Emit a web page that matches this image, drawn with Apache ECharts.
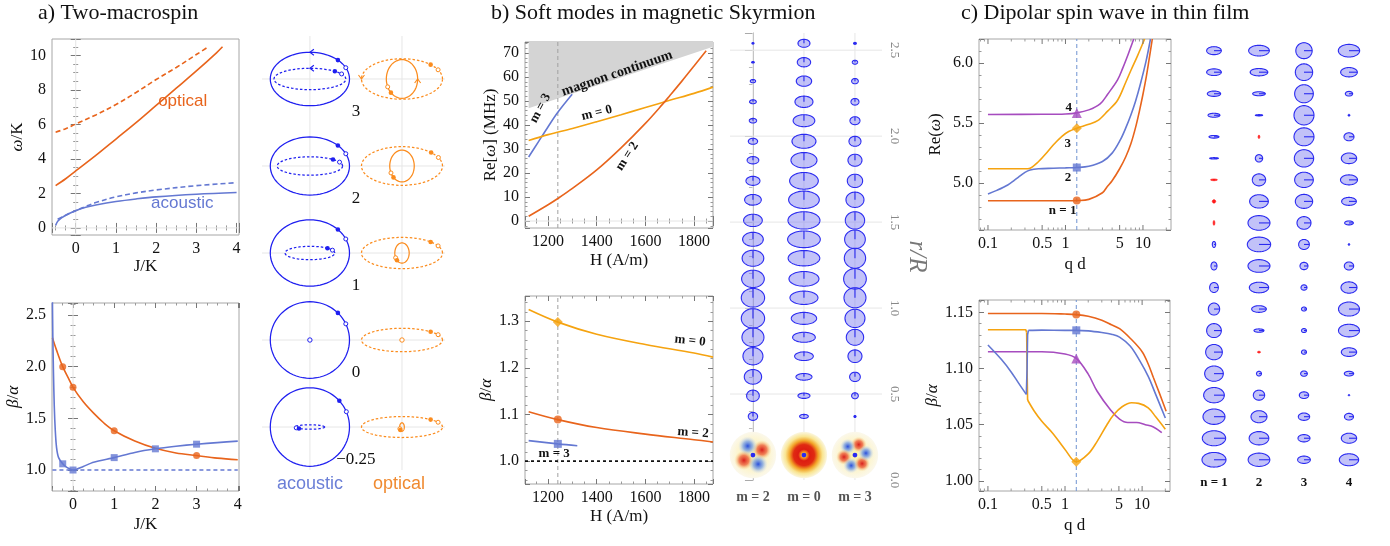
<!DOCTYPE html>
<html>
<head>
<meta charset="utf-8">
<title>Spin-wave modes</title>
<script src="https://cdn.jsdelivr.net/npm/echarts@6.0.0/dist/echarts.min.js"></script>
<style>
  html, body { margin: 0; padding: 0; background: #fff; }
  #chart { width: 1390px; height: 546px; }
</style>
</head>
<body>
<div id="chart"></div>
<script>
// ======================= DATA =======================
// a) Two-macrospin: ω/K vs J/K
const aOmegaOpticalSolid   = [[-0.5,2.45],[-0.25,2.85],[0,3.3],[0.5,4.2],[1,5.15],[1.5,6.1],[2,7.1],[2.5,8.1],[3,9.1],[3.5,10.15],[3.65,10.5]];
const aOmegaOpticalDashed  = [[-0.5,5.55],[-0.25,5.75],[0,6.02],[0.5,6.55],[1,7.15],[1.5,7.85],[2,8.6],[2.5,9.3],[3,10.05],[3.3,10.5]];
const aOmegaAcousticSolid  = [[-0.5,0.15],[-0.45,0.38],[-0.4,0.5],[-0.3,0.66],[-0.15,0.85],[0,1.0],[0.25,1.2],[0.5,1.33],[1,1.53],[1.5,1.68],[2,1.8],[3,1.95],[4,2.05]];
const aOmegaAcousticDashed = [[-0.45,0.5],[-0.3,0.68],[-0.15,0.85],[0,1.0],[0.25,1.25],[0.5,1.47],[1,1.8],[1.5,2.03],[2,2.2],[3,2.45],[4,2.62]];
// a) β/α vs J/K
const aBetaOptical  = [[-0.5,2.28],[-0.4,2.16],[-0.25,2.0],[-0.1,1.88],[0,1.8],[0.25,1.66],[0.5,1.55],[0.75,1.455],[1,1.38],[1.5,1.28],[2,1.21],[2.5,1.165],[3,1.14],[3.5,1.115],[4,1.1]];
const aBetaAcoustic = [[-0.5,2.65],[-0.49,2.3],[-0.475,1.95],[-0.455,1.62],[-0.43,1.38],[-0.4,1.22],[-0.35,1.12],[-0.25,1.06],[-0.15,1.025],[0,1.0],[0.25,1.035],[0.5,1.075],[1,1.12],[1.5,1.17],[2,1.205],[2.5,1.23],[3,1.25],[3.5,1.265],[4,1.28]];
const aBetaReference = [[-0.5,1],[4,1]];
const aBetaOpticalMarks  = [[-0.25,2.0],[0,1.8],[1,1.38],[3,1.14]];
const aBetaAcousticMarks = [[-0.25,1.06],[0,1.0],[1,1.12],[2,1.205],[3,1.25]];
// a) precession trajectories, rows J/K = 3, 2, 1, 0, -0.25 (semi-axes, % of column spacing)
const mxRowLabels = ['3', '2', '1', '0', '\u22120.25'];
const mxAcSolid  = [[43,29],[43,31.5],[43,36],[43,41.6],[43,42.6]];
const mxAcDashed = [[39,11.6],[35.5,10],[27,7.3],[0,0],[16,2.4]];
const mxOpDashed = [[44,22],[44,21],[44,17],[44,12.7],[44,11.4]];
const mxOpSolid  = [[17,21],[13.3,17.2],[7.8,11],[0,0],[2.5,4.6]];
// phase (deg) of filled / open markers
const mxPhAcSolid  = [[45,25],[45,25],[45,25],[45,25],[42,23]];
const mxPhAcDashed = [[46,28],[45,25],[45,25],[0,0],[222,202]];
const mxPhOpDashed = [[45,27],[44,26],[45,27],[45,27],[45,27]];
const mxPhOpSolid  = [[225,204],[226,206],[226,208],[0,0],[225,205]];
// arrow phase (deg), -1 = none
const mxArrowAcSolid  = [90,-1,-1,-1,-1];
const mxArrowAcDashed = [90,-1,-1,-1,-1];
const mxArrowOpDashed = [180,-1,-1,-1,-1];
const mxArrowOpSolid  = [0,-1,-1,-1,-1];

// b) Skyrmion soft modes: Re[ω] (MHz) vs H (A/m)
const bContinuumEdge = [[1120,47],[1878,72.6]];
const bOmegaM3 = [[1120,26.7],[1160,33],[1200,39.3],[1240,45.3],[1299,52.8]];
const bOmegaM0 = [[1120,33.6],[1200,36],[1300,38.6],[1400,41.4],[1500,44.3],[1600,47.3],[1700,50.3],[1800,53.2],[1878,55.8]];
const bOmegaM2 = [[1120,2],[1200,6.8],[1240,9.4],[1300,13.6],[1400,21.3],[1500,30.5],[1600,40.7],[1670,48.6],[1700,52.2],[1750,58.3],[1800,64.6],[1850,71]];
const bFieldMarker = 1240;
// b) β/α vs H
const bBetaM0 = [[1120,1.325],[1240,1.298],[1400,1.272],[1600,1.25],[1800,1.232],[1878,1.223]];
const bBetaM2 = [[1120,1.106],[1240,1.089],[1400,1.072],[1600,1.058],[1800,1.046],[1878,1.041]];
const bBetaM3 = [[1120,1.044],[1240,1.037],[1320,1.033]];
const bBetaRef = [[1105,1],[1878,1]];
const bBetaMarkM0 = [[1240,1.298]];
const bBetaMarkM2 = [[1240,1.089]];
const bBetaMarkM3 = [[1240,1.037]];
// b) local precession ellipses vs r/R (full widths / heights, a.u.)
const skColumns = ['m = 2', 'm = 0', 'm = 3'];
const skR   = [2.54,2.43,2.32,2.20,2.09,1.97,1.86,1.74,1.63,1.51,1.40,1.29,1.17,1.06,0.94,0.83,0.72,0.60,0.49,0.37,0.26];
const skM2W = [10,12,16,20,22,28,35,42,50,56,62,65,68,70,70,66,60,52,38,28,16];
const skM2H = [8,8,10,12,14,18,22,27,32,37,42,48,52,56,58,56,52,44,34,24,14];
const skM0W = [36,40,46,54,65,72,78,86,92,96,98,95,90,84,76,68,56,48,36,26,16];
const skM0H = [24,28,31,34,36,42,46,50,52,52,50,46,44,40,36,30,26,20,16,12,10];
const skM3W = [12,16,20,24,30,36,42,46,54,58,62,64,68,66,60,52,42,32,20,10,4];
const skM3H = [10,12,16,20,24,30,36,40,46,52,56,60,62,60,55,48,38,28,18,9,4];
const skDiscs = [[0,0.145,2],[1,0.145,0],[2,0.145,3]]; // column, r/R of centre, m
const skGridR = [0.5,1.0,1.5,2.0,2.5];

// c) Dipolar spin waves in thin film: Re(ω) vs q d
const cReN1 = [[0.1,4.853],[0.5,4.853],[1,4.853],[1.4,4.855],[2,4.865],[3,4.92],[3.45,4.97],[4,5.02],[5,5.12],[6,5.22],[7,5.33],[8,5.46],[9,5.6],[10,5.74],[11,5.88],[12,6.03],[13.2,6.2]];
const cReN2 = [[0.1,4.91],[0.13,4.94],[0.18,4.985],[0.22,5.025],[0.26,5.06],[0.3,5.09],[0.35,5.11],[0.45,5.12],[0.7,5.124],[1,5.127],[1.4,5.13],[2,5.14],[3,5.18],[4,5.25],[5.1,5.36],[6,5.46],[7,5.57],[8,5.68],[9.3,5.83],[11,6.02],[12.5,6.2]];
const cReN3 = [[0.1,5.12],[0.3,5.12],[0.35,5.125],[0.45,5.18],[0.55,5.24],[0.7,5.32],[0.9,5.39],[1.1,5.43],[1.4,5.458],[2,5.49],[2.6,5.52],[3.5,5.6],[4.7,5.69],[6,5.84],[7,5.94],[8.5,6.06],[10.5,6.2]];
const cReN4 = [[0.1,5.572],[0.5,5.573],[1,5.576],[1.4,5.585],[2,5.61],[2.8,5.66],[3.5,5.74],[4.7,5.86],[5.5,5.96],[6.5,6.08],[7.6,6.2]];
const cQdMarker = 1.4;
const cReMarkN1 = [[1.4,4.855]], cReMarkN2 = [[1.4,5.13]], cReMarkN3 = [[1.4,5.458]], cReMarkN4 = [[1.4,5.585]];
// c) β/α vs q d (n = 2 and n = 3 split at the mode crossing near q d = 0.32)
const cBetaN1 = [[0.1,1.149],[0.5,1.149],[1,1.1485],[1.4,1.148],[2,1.1465],[3,1.143],[4,1.139],[5.1,1.1355],[7,1.127],[10,1.115],[12,1.104],[14,1.092],[17,1.077],[20.5,1.062]];
const cBetaN2Low  = [[0.1,1.121],[0.15,1.108],[0.2,1.097],[0.25,1.087],[0.3,1.079],[0.315,1.077]];
const cBetaN2Jump = [[0.315,1.077],[0.322,1.1],[0.327,1.13],[0.335,1.134]];
const cBetaN2High = [[0.335,1.134],[0.5,1.1342],[1,1.134],[1.4,1.134],[2,1.1335],[3,1.132],[4,1.1305],[5.1,1.128],[7,1.12],[9.3,1.107],[12,1.093],[15,1.077],[20,1.056]];
const cBetaN3Low  = [[0.1,1.1345],[0.31,1.1345],[0.318,1.132]];
const cBetaN3Jump = [[0.318,1.132],[0.322,1.1],[0.327,1.072]];
const cBetaN3High = [[0.327,1.072],[0.4,1.062],[0.5,1.053],[0.7,1.042],[1,1.028],[1.4,1.017],[2,1.024],[2.6,1.035],[3.5,1.05],[4.3,1.059],[5.5,1.066],[7.3,1.0695],[9,1.069],[12,1.065],[15,1.057],[20,1.046]];
const cBetaN4 = [[0.1,1.115],[0.5,1.115],[1,1.113],[1.4,1.109],[2,1.095],[2.6,1.08],[3.9,1.063],[5.1,1.055],[6.5,1.052],[8.5,1.052],[11,1.05],[14,1.048],[18,1.043]];
const cBetaMarkN1 = [[1.4,1.148]], cBetaMarkN2 = [[1.4,1.134]], cBetaMarkN3 = [[1.4,1.017]], cBetaMarkN4 = [[1.4,1.109]];
const cLogMajor = [0.1, 0.5, 1, 5, 10];
const cLogMajorLabels = ['0.1', '0.5', '1', '5', '10'];
const cLogMinor = [0.08,0.09,0.2,0.3,0.4,0.6,0.7,0.8,0.9,2,3,4,6,7,8,9,20];
// c) precession ellipses across film thickness (20 layers, top to bottom), a.u.; S = -1: reversed
const tfColumns = ['n = 1', '2', '3', '4'];
const tfN1W = [44,44,40,36,30,26,20,10,3,10,18,26,34,44,50,56,62,66,70,72];
const tfN1H = [24,20,16,12,8,4,2,10,14,18,24,30,36,42,46,46,46,46,45,44];
const tfN1S = [1,1,1,1,1,1,-1,-1,-1,1,1,1,1,1,1,1,1,1,1,1];
const tfN2W = [62,53,38,22,3,22,40,56,66,70,66,58,44,30,9,15,34,48,59,65];
const tfN2H = [32,22,12,3,10,22,36,40,44,44,38,32,20,10,4,14,30,36,40,40];
const tfN2S = [1,1,1,1,-1,1,1,1,1,1,1,1,1,1,-1,1,1,1,1,1];
const tfN3W = [49,52,56,60,60,58,56,52,42,32,24,18,15,15,15,20,28,34,36,38];
const tfN3H = [48,50,54,58,54,52,46,42,38,30,22,16,12,12,13,16,20,22,22,22];
const tfN3S = [1,1,1,1,1,1,1,1,1,1,1,1,1,1,1,1,1,1,1,1];
const tfN4W = [64,50,22,6,30,46,51,44,26,3,28,48,63,63,46,28,4,27,46,58];
const tfN4H = [38,28,14,6,24,32,30,24,12,6,24,34,42,38,26,14,4,20,30,36];
const tfN4S = [1,1,1,1,1,1,1,1,1,1,1,1,1,1,1,1,1,1,1,1];

// ======================= STYLE =======================
const SERIF = '"Liberation Serif","DejaVu Serif",serif';
const SANS = '"Liberation Sans","DejaVu Sans",sans-serif';
const C_OR = '#e8641c', C_BL = '#6478d2', C_AM = '#f5a310', C_PU = '#a64cbf';
const FRAME = '#a6a6a6';
const MX_BLUE = '#1f1ff0', MX_ORANGE = '#fb8c1e';
const GLYPH_STROKE = '#2a2af0', GLYPH_FILL = 'rgba(120,120,240,0.45)';
// radius(px) = amplitude * scale * (px per column)
const MX_SCALE = 0.01, SK_SCALE = 1 / 306, TF_SCALE = 1 / 270, SK_DISC_R = 0.135;
const RICH = { i: { fontStyle: 'italic', fontFamily: SERIF, fontSize: 17, color: '#111' } };

// ======================= BUILDERS =======================
const grids = [], xAxes = [], yAxes = [], series = [];

function frameAxis(gi, o, pos, main) {
  const isX = pos === 'bottom' || pos === 'top';
  const isLog = o.type === 'log';
  return {
    gridIndex: gi, type: o.type || 'value', position: pos, min: o.min, max: o.max, splitNumber: o.split,
    axisLine: { show: false },
    axisTick: { show: !isLog, inside: true, length: 5, lineStyle: { color: '#777', width: 1 } },
    minorTick: { show: !isLog && !!o.minor, splitNumber: o.minor || 5, length: 2.5, lineStyle: { color: '#999', width: 1 } },
    splitLine: { show: false },
    axisLabel: { show: main && !isLog, showMinLabel: false, showMaxLabel: false, margin: o.margin || 6,
      color: '#111', fontFamily: SERIF, fontSize: 16, formatter: o.fmt || (v => String(v)) },
    name: main ? o.name : '', nameLocation: 'middle', nameGap: o.gap || 25, nameRotate: isX ? 0 : 90,
    nameTextStyle: { color: '#111', fontFamily: SERIF, fontSize: 17, rich: RICH }
  };
}
function addPlot(box, xo, yo) {
  const gi = grids.length;
  grids.push({ left: box[0], top: box[1], width: box[2], height: box[3], show: true, borderColor: FRAME, borderWidth: 1 });
  const xi = xAxes.length, yi = yAxes.length;
  xAxes.push(frameAxis(gi, xo, 'bottom', true), frameAxis(gi, xo, 'top', false));
  yAxes.push(frameAxis(gi, yo, 'left', true), frameAxis(gi, yo, 'right', false));
  return { x: xi, y: yi, xr: [xo.min, xo.max], yr: [yo.min, yo.max] };
}
function addBare(box, xr, yr, yInverse, yAxisOpt) {
  const gi = grids.length;
  grids.push({ left: box[0], top: box[1], width: box[2], height: box[3], show: false });
  const xi = xAxes.length, yi = yAxes.length;
  xAxes.push({ gridIndex: gi, type: 'value', min: xr[0], max: xr[1], show: false });
  yAxes.push(Object.assign({ gridIndex: gi, type: 'value', min: yr[0], max: yr[1], inverse: !!yInverse, show: false }, yAxisOpt || {}));
  return { x: xi, y: yi, xr, yr };
}
function addLine(ax, data, color, opt) {
  opt = opt || {};
  series.push(Object.assign({
    type: 'line', xAxisIndex: ax.x, yAxisIndex: ax.y, data, symbol: 'none', showSymbol: false,
    smooth: opt.smooth === undefined ? 0.35 : opt.smooth, silent: true, z: opt.z || 3,
    lineStyle: { color, width: opt.width === undefined ? 1.6 : opt.width, type: opt.dash || 'solid' }
  }, opt.extra || {}));
}
function addMarks(ax, data, color, symbol, size) {
  series.push({ type: 'scatter', xAxisIndex: ax.x, yAxisIndex: ax.y, data, symbol, symbolSize: size,
    itemStyle: { color }, silent: true, z: 6 });
}
function addTexts(ax, items) {
  series.push({
    type: 'custom', xAxisIndex: ax.x, yAxisIndex: ax.y, clip: false, silent: true, z: 8,
    data: items.map(t => [t.x, t.y]),
    renderItem: (p, api) => {
      const t = items[p.dataIndex];
      const c = api.coord([api.value(0), api.value(1)]);
      return { type: 'text', x: c[0], y: c[1], rotation: (t.rot || 0) * Math.PI / 180,
        style: { text: t.text, fill: t.color || '#111', fontFamily: t.family || SERIF, fontSize: t.size || 14,
          fontWeight: t.bold ? 'bold' : 'normal', fontStyle: t.italic ? 'italic' : 'normal',
          align: t.align || 'center', verticalAlign: 'middle' } };
    }
  });
}
function addRefLines(ax, lines, style, z) {
  series.push({
    type: 'custom', xAxisIndex: ax.x, yAxisIndex: ax.y, clip: false, silent: true, z: z || 1,
    data: lines.map(l => l.v !== undefined ? [l.v, ax.yr[0]] : [ax.xr[0], l.h]),
    renderItem: (p, api) => {
      const l = lines[p.dataIndex];
      const a = l.v !== undefined ? api.coord([l.v, ax.yr[0]]) : api.coord([ax.xr[0], l.h]);
      const b = l.v !== undefined ? api.coord([l.v, ax.yr[1]]) : api.coord([ax.xr[1], l.h]);
      return { type: 'line', shape: { x1: a[0], y1: a[1], x2: b[0], y2: b[1] },
        style: Object.assign({ stroke: '#e2e2e2', lineWidth: 1 }, style) };
    }
  });
}
function addLogTicks(ax) {
  const items = cLogMajor.map((v, i) => [v, 1, i]).concat(cLogMinor.map(v => [v, 0, -1]));
  series.push({
    type: 'custom', xAxisIndex: ax.x, yAxisIndex: ax.y, clip: false, silent: true, z: 6, data: items,
    renderItem: (p, api) => {
      const v = api.value(0), major = api.value(1) === 1;
      const b = api.coord([v, ax.yr[0]]), t = api.coord([v, ax.yr[1]]);
      const L = major ? 5 : 2.5, col = major ? '#777' : '#999';
      const ch = [
        { type: 'line', shape: { x1: b[0], y1: b[1], x2: b[0], y2: b[1] - L }, style: { stroke: col, lineWidth: 1 } },
        { type: 'line', shape: { x1: t[0], y1: t[1], x2: t[0], y2: t[1] + L }, style: { stroke: col, lineWidth: 1 } }
      ];
      if (major) ch.push({ type: 'text', x: b[0], y: b[1] + 6, style: { text: cLogMajorLabels[api.value(2)],
        fill: '#111', fontFamily: SERIF, fontSize: 16, align: 'center', verticalAlign: 'top' } });
      return { type: 'group', children: ch };
    }
  });
}
function ellipsePts(cx, cy, rx, ry) {
  const pts = [];
  for (let k = 0; k < 72; k++) { const t = k / 72 * Math.PI * 2; pts.push([cx + rx * Math.cos(t), cy - ry * Math.sin(t)]); }
  return pts;
}

// ======================= PANEL a =======================
const aTop = addPlot([52, 39, 187, 196],
  { min: -0.59, max: 4.06, split: 5, minor: 4, name: 'J/K', gap: 23 },
  { min: -0.41, max: 10.95, split: 5, minor: 4, name: '{i|\u03c9}/K', gap: 25 });
addRefLines(aTop, [{ v: 0 }, { h: 0 }], { stroke: '#e4e4e4' });
addLine(aTop, aOmegaOpticalDashed, C_OR, { dash: [5, 3] });
addLine(aTop, aOmegaOpticalSolid, C_OR);
addLine(aTop, aOmegaAcousticDashed, C_BL, { dash: [5, 3] });
addLine(aTop, aOmegaAcousticSolid, C_BL);
addTexts(aTop, [
  { x: 2.66, y: 7.33, text: 'optical', color: C_OR, family: SANS, size: 17 },
  { x: 2.65, y: 1.45, text: 'acoustic', color: C_BL, family: SANS, size: 17 }
]);

const aBot = addPlot([52, 303, 187, 188],
  { min: -0.51, max: 4.03, split: 5, minor: 4, name: 'J/K', gap: 25 },
  { min: 0.797, max: 2.616, split: 4, minor: 5, fmt: v => v.toFixed(1), name: '{i|\u03b2}/{i|\u03b1}', gap: 29 });
addRefLines(aBot, [{ v: 0 }], { stroke: '#e4e4e4' });
addLine(aBot, aBetaReference, C_BL, { dash: [4, 3], smooth: false });
addLine(aBot, aBetaOptical, C_OR);
addLine(aBot, aBetaAcoustic, C_BL, { smooth: 0.25 });
addMarks(aBot, aBetaOpticalMarks, C_OR, 'circle', 7);
addMarks(aBot, aBetaAcousticMarks, C_BL, 'rect', 7);

// trajectories
const aGly = addBare([262, 36, 183, 434], [-0.52, 1.467], [-0.494, 4.494], true);
addRefLines(aGly, [{ v: 0 }, { v: 1 }].concat(mxRowLabels.map((_, i) => ({ h: i }))), { stroke: '#e6e6e6' });
const mxItems = [];
mxRowLabels.forEach((_, i) => {
  mxItems.push([0, i, mxAcSolid[i][0], mxAcSolid[i][1], mxPhAcSolid[i][0], mxPhAcSolid[i][1], 0, 0, mxArrowAcSolid[i]]);
  mxItems.push([0, i, mxAcDashed[i][0], mxAcDashed[i][1], mxPhAcDashed[i][0], mxPhAcDashed[i][1], 1, 0, mxArrowAcDashed[i]]);
  mxItems.push([1, i, mxOpDashed[i][0], mxOpDashed[i][1], mxPhOpDashed[i][0], mxPhOpDashed[i][1], 1, 1, mxArrowOpDashed[i]]);
  mxItems.push([1, i, mxOpSolid[i][0], mxOpSolid[i][1], mxPhOpSolid[i][0], mxPhOpSolid[i][1], 0, 1, mxArrowOpSolid[i]]);
});
series.push({
  type: 'custom', xAxisIndex: aGly.x, yAxisIndex: aGly.y, clip: false, silent: true, z: 4, data: mxItems,
  renderItem: (p, api) => {
    const c = api.coord([api.value(0), api.value(1)]);
    const u = api.size([1, 1])[0];
    const rx = api.value(2) * MX_SCALE * u, ry = api.value(3) * MX_SCALE * u;
    const col = api.value(7) === 0 ? MX_BLUE : MX_ORANGE;
    const dashed = api.value(6) === 1;
    const ch = [];
    if (rx < 0.5) {
      ch.push({ type: 'circle', shape: { cx: c[0], cy: c[1], r: 2.2 }, style: { fill: '#fff', stroke: col, lineWidth: 1 } });
      return { type: 'group', children: ch };
    }
    const at = d => [c[0] + rx * Math.cos(d * Math.PI / 180), c[1] - ry * Math.sin(d * Math.PI / 180)];
    const st = { fill: 'none', stroke: col, lineWidth: 1.25 };
    if (dashed) st.lineDash = [2.5, 2];
    ch.push({ type: 'polygon', shape: { points: ellipsePts(c[0], c[1], rx, ry) }, style: st });
    const pf = at(api.value(4)), po = at(api.value(5));
    ch.push({ type: 'circle', shape: { cx: po[0], cy: po[1], r: 2 }, style: { fill: '#fff', stroke: col, lineWidth: 1 } });
    ch.push({ type: 'circle', shape: { cx: pf[0], cy: pf[1], r: 2.3 }, style: { fill: col } });
    const ph = api.value(8);
    if (ph >= 0) {
      const r = ph * Math.PI / 180, P = at(ph);
      let tx = -rx * Math.sin(r), ty = -ry * Math.cos(r);
      const n = Math.hypot(tx, ty); tx /= n; ty /= n;
      const A = [P[0] - 4 * tx - 3 * ty, P[1] - 4 * ty + 3 * tx], B = [P[0] - 4 * tx + 3 * ty, P[1] - 4 * ty - 3 * tx];
      ch.push({ type: 'polyline', shape: { points: [A, P, B] }, style: { fill: 'none', stroke: col, lineWidth: 1.1 } });
    }
    return { type: 'group', children: ch };
  }
});
addTexts(aGly, mxRowLabels.map((t, i) => ({ x: 0.5, y: i + 0.37, text: t, size: 17 })).concat([
  { x: 0, y: 4.655, text: 'acoustic', color: '#6b7fd7', family: SANS, size: 18 },
  { x: 0.967, y: 4.655, text: 'optical', color: '#f08a30', family: SANS, size: 18 }
]));

// ======================= PANEL b =======================
const bTop = addPlot([525, 42, 188, 186],
  { min: 1105, max: 1878, split: 4, minor: 4, name: 'H (A/m)', gap: 24 },
  { min: -2.9, max: 74.6, split: 8, minor: 5, name: 'Re[{i|\u03c9}] (MHz)', gap: 22 });
addLine(bTop, bContinuumEdge, '#d4d4d4', { smooth: false, width: 0, z: 1,
  extra: { areaStyle: { color: '#d4d4d4', opacity: 1, origin: 'end' } } });
addRefLines(bTop, [{ h: 0 }], { stroke: '#e4e4e4' }, 1);
addRefLines(bTop, [{ v: bFieldMarker }], { stroke: '#a0a0a0', lineDash: [4, 3] }, 2);
addLine(bTop, bOmegaM3, C_BL);
addLine(bTop, bOmegaM0, C_AM);
addLine(bTop, bOmegaM2, C_OR);
addTexts(bTop, [
  { x: 1484, y: 61.5, text: 'magnon continuum', bold: true, size: 14, rot: 19 },
  { x: 1168, y: 47, text: 'm = 3', bold: true, size: 13, rot: 62 },
  { x: 1400, y: 45, text: 'm = 0', bold: true, size: 13, rot: 14 },
  { x: 1525, y: 27, text: 'm = 2', bold: true, size: 13, rot: 57 }
]);

const bBot = addPlot([525, 296, 188, 188],
  { min: 1105, max: 1878, split: 4, minor: 4, name: 'H (A/m)', gap: 24 },
  { min: 0.951, max: 1.354, split: 4, minor: 5, fmt: v => v.toFixed(1), name: '{i|\u03b2}/{i|\u03b1}', gap: 23 });
addRefLines(bBot, [{ v: bFieldMarker }], { stroke: '#a0a0a0', lineDash: [4, 3] }, 2);
addLine(bBot, bBetaRef, '#111', { dash: [3, 3], smooth: false, width: 1.6 });
addLine(bBot, bBetaM0, C_AM);
addLine(bBot, bBetaM2, C_OR);
addLine(bBot, bBetaM3, C_BL);
addMarks(bBot, bBetaMarkM0, C_AM, 'diamond', 10);
addMarks(bBot, bBetaMarkM2, C_OR, 'circle', 8);
addMarks(bBot, bBetaMarkM3, C_BL, 'rect', 8);
addTexts(bBot, [
  { x: 1784, y: 1.258, text: 'm = 0', bold: true, size: 13, rot: -6 },
  { x: 1796, y: 1.061, text: 'm = 2', bold: true, size: 13, rot: -4 },
  { x: 1225, y: 1.017, text: 'm = 3', bold: true, size: 13 }
]);

// skyrmion glyphs with r/R axis on the right
const bGly = addBare([730, 33, 152, 447], [-0.45, 2.53], [0, 2.6], false, {
  show: true, position: 'right', splitNumber: 5,
  axisLine: { show: true, lineStyle: { color: '#aaa' } },
  axisTick: { show: true, inside: true, length: 8, lineStyle: { color: '#aaa' } },
  minorTick: { show: true, splitNumber: 5, length: 4, lineStyle: { color: '#bbb' } },
  splitLine: { show: false },
  axisLabel: { rotate: -90, showMinLabel: true, showMaxLabel: false, color: '#888', fontFamily: SERIF, fontSize: 13, margin: 6,
    formatter: v => v.toFixed(1) },
  name: 'r/R', nameLocation: 'middle', nameGap: 22, nameRotate: -90,
  nameTextStyle: { color: '#777', fontFamily: SERIF, fontSize: 25, fontStyle: 'italic' }
});
addRefLines(bGly, skColumns.map((_, i) => ({ v: i })).concat(skGridR.map(r => ({ h: r }))), { stroke: '#e6e6e6' });
const skItems = [];
[[skM2W, skM2H], [skM0W, skM0H], [skM3W, skM3H]].forEach((wh, col) => {
  skR.forEach((r, i) => skItems.push([col, r, wh[0][i], wh[1][i]]));
});
series.push({
  type: 'custom', xAxisIndex: bGly.x, yAxisIndex: bGly.y, clip: false, silent: true, z: 4, data: skItems,
  renderItem: (p, api) => {
    const c = api.coord([api.value(0), api.value(1)]);
    const u = api.size([1, 1])[0];
    const rx = api.value(2) * SK_SCALE * u, ry = api.value(3) * SK_SCALE * u;
    if (rx < 2.2) return { type: 'ellipse', shape: { cx: c[0], cy: c[1], rx: Math.max(rx, 1.4), ry: Math.max(ry, 1.2) }, style: { fill: GLYPH_STROKE } };
    return { type: 'group', children: [
      { type: 'polygon', shape: { points: ellipsePts(c[0], c[1], rx, ry) }, style: { fill: GLYPH_FILL, stroke: GLYPH_STROKE, lineWidth: 1.1 } },
      { type: 'line', shape: { x1: c[0], y1: c[1], x2: c[0], y2: c[1] - ry }, style: { stroke: GLYPH_STROKE, lineWidth: 1.1 } }
    ] };
  }
});
series.push({
  type: 'custom', xAxisIndex: bGly.x, yAxisIndex: bGly.y, clip: false, silent: true, z: 4, data: skDiscs,
  renderItem: (p, api) => {
    const c = api.coord([api.value(0), api.value(1)]);
    const R = api.size([0, SK_DISC_R])[1];
    const m = api.value(2);
    const ch = [];
    if (m === 0) {
      ch.push({ type: 'circle', shape: { cx: c[0], cy: c[1], r: R }, style: { fill: { type: 'radial', x: 0.5, y: 0.5, r: 0.5, colorStops: [
        { offset: 0, color: '#fff2a0' }, { offset: 0.12, color: '#f7a020' }, { offset: 0.25, color: '#dc1c12' },
        { offset: 0.45, color: '#e02a12' }, { offset: 0.62, color: '#f2a428' }, { offset: 0.8, color: '#f9e592' }, { offset: 1, color: '#fbf7e2' }] } } });
    } else {
      ch.push({ type: 'circle', shape: { cx: c[0], cy: c[1], r: R }, style: { fill: { type: 'radial', x: 0.5, y: 0.5, r: 0.5, colorStops: [
        { offset: 0, color: '#fbf0a8' }, { offset: 0.7, color: '#fcf5d2' }, { offset: 1, color: '#fbf8ec' }] } } });
      const ph0 = m === 2 ? 30 : 70, step = 180 / m, lr = m === 2 ? 0.42 : 0.34, ld = m === 2 ? 0.45 : 0.48;
      for (let k = 0; k < 2 * m; k++) {
        const a = (ph0 + k * step) * Math.PI / 180;
        const red = k % 2 === 0;
        const stops = red
          ? [{ offset: 0, color: 'rgba(215,20,20,0.95)' }, { offset: 0.5, color: 'rgba(235,80,40,0.7)' }, { offset: 1, color: 'rgba(250,220,120,0)' }]
          : [{ offset: 0, color: 'rgba(30,70,220,0.95)' }, { offset: 0.5, color: 'rgba(90,140,235,0.6)' }, { offset: 1, color: 'rgba(200,220,255,0)' }];
        ch.push({ type: 'circle', shape: { cx: c[0] + ld * R * Math.cos(a), cy: c[1] - ld * R * Math.sin(a), r: lr * R },
          style: { fill: { type: 'radial', x: 0.5, y: 0.5, r: 0.5, colorStops: stops } } });
      }
    }
    ch.push({ type: 'circle', shape: { cx: c[0], cy: c[1], r: 2.4 }, style: { fill: GLYPH_STROKE } });
    return { type: 'group', children: ch };
  }
});
addTexts(bGly, skColumns.map((t, i) => ({ x: i, y: -0.1, text: t, bold: true, size: 14, color: '#555' })));

// ======================= PANEL c =======================
const cTop = addPlot([979, 39, 192, 191],
  { type: 'log', min: 0.0766, max: 23, name: 'q d', gap: 26 },
  { min: 4.61, max: 6.2, split: 3, minor: 5, fmt: v => v.toFixed(1), name: 'Re({i|\u03c9})', gap: 35 });
addLogTicks(cTop);
addRefLines(cTop, [{ v: cQdMarker }], { stroke: '#6f93d2', lineDash: [4, 3] }, 2);
addLine(cTop, cReN4, C_PU);
addLine(cTop, cReN3, C_AM);
addLine(cTop, cReN2, C_BL);
addLine(cTop, cReN1, C_OR);
addMarks(cTop, cReMarkN1, C_OR, 'circle', 8);
addMarks(cTop, cReMarkN2, C_BL, 'rect', 8);
addMarks(cTop, cReMarkN3, C_AM, 'diamond', 10);
addMarks(cTop, cReMarkN4, C_PU, 'triangle', 10);
addTexts(cTop, [
  { x: 1.1, y: 5.625, text: '4', bold: true, size: 13 },
  { x: 1.07, y: 5.33, text: '3', bold: true, size: 13 },
  { x: 1.08, y: 5.05, text: '2', bold: true, size: 13 },
  { x: 0.92, y: 4.775, text: 'n = 1', bold: true, size: 13 }
]);

const cBot = addPlot([979, 300, 191, 191],
  { type: 'log', min: 0.0766, max: 23, name: 'q d', gap: 26 },
  { min: 0.991, max: 1.161, split: 3, minor: 5, fmt: v => v.toFixed(2), name: '{i|\u03b2}/{i|\u03b1}', gap: 37 });
addLogTicks(cBot);
addRefLines(cBot, [{ v: cQdMarker }], { stroke: '#6f93d2', lineDash: [4, 3] }, 2);
addLine(cBot, cBetaN4, C_PU);
addLine(cBot, cBetaN3Low, C_AM, { smooth: false });
addLine(cBot, cBetaN3Jump, C_AM, { smooth: false });
addLine(cBot, cBetaN3High, C_AM);
addLine(cBot, cBetaN2Low, C_BL);
addLine(cBot, cBetaN2Jump, C_BL, { smooth: false });
addLine(cBot, cBetaN2High, C_BL);
addLine(cBot, cBetaN1, C_OR);
addMarks(cBot, cBetaMarkN1, C_OR, 'circle', 8);
addMarks(cBot, cBetaMarkN2, C_BL, 'rect', 8);
addMarks(cBot, cBetaMarkN3, C_AM, 'diamond', 10);
addMarks(cBot, cBetaMarkN4, C_PU, 'triangle', 10);

// thin-film glyphs
const cGly = addBare([1190, 30, 185, 450], [-0.533, 3.578], [-0.96, 19.94], true);
const tfItems = [];
[[tfN1W, tfN1H, tfN1S], [tfN2W, tfN2H, tfN2S], [tfN3W, tfN3H, tfN3S], [tfN4W, tfN4H, tfN4S]].forEach((a, col) => {
  a[0].forEach((w, i) => tfItems.push([col, i, w, a[1][i], a[2][i]]));
});
series.push({
  type: 'custom', xAxisIndex: cGly.x, yAxisIndex: cGly.y, clip: false, silent: true, z: 4, data: tfItems,
  renderItem: (p, api) => {
    const c = api.coord([api.value(0), api.value(1)]);
    const u = api.size([1, 1])[0];
    const rx = api.value(2) * TF_SCALE * u, ry = api.value(3) * TF_SCALE * u;
    const red = api.value(4) < 0;
    const col = red ? '#ff1a1a' : GLYPH_STROKE;
    if (red || (rx < 2 && ry < 2)) {
      return { type: 'polygon', shape: { points: ellipsePts(c[0], c[1], Math.max(rx, 0.8), Math.max(ry, 0.8)) }, style: { fill: col, stroke: col, lineWidth: 0.8 } };
    }
    return { type: 'group', children: [
      { type: 'polygon', shape: { points: ellipsePts(c[0], c[1], rx, Math.max(ry, 0.6)) }, style: { fill: GLYPH_FILL, stroke: GLYPH_STROKE, lineWidth: 1.1 } },
      { type: 'line', shape: { x1: c[0], y1: c[1], x2: c[0] + rx, y2: c[1] }, style: { stroke: GLYPH_STROKE, lineWidth: 1.1 } }
    ] };
  }
});
addTexts(cGly, tfColumns.map((t, i) => ({ x: i, y: 20.08, text: t, bold: true, size: 13 })));

// ======================= CHART =======================
const titleStyle = { fontFamily: SERIF, fontSize: 22, fontWeight: 'normal', color: '#111' };
const chart = echarts.init(document.getElementById('chart'), null, { renderer: 'canvas' });
chart.setOption({
  animation: false,
  backgroundColor: '#ffffff',
  title: [
    { text: 'a) Two-macrospin', left: 38, top: 2, padding: 0, textStyle: titleStyle },
    { text: 'b) Soft modes in magnetic Skyrmion', left: 491, top: 2, padding: 0, textStyle: titleStyle },
    { text: 'c) Dipolar spin wave in thin film', left: 961, top: 2, padding: 0, textStyle: titleStyle }
  ],
  grid: grids,
  xAxis: xAxes,
  yAxis: yAxes,
  series: series
});
</script>
</body>
</html>
